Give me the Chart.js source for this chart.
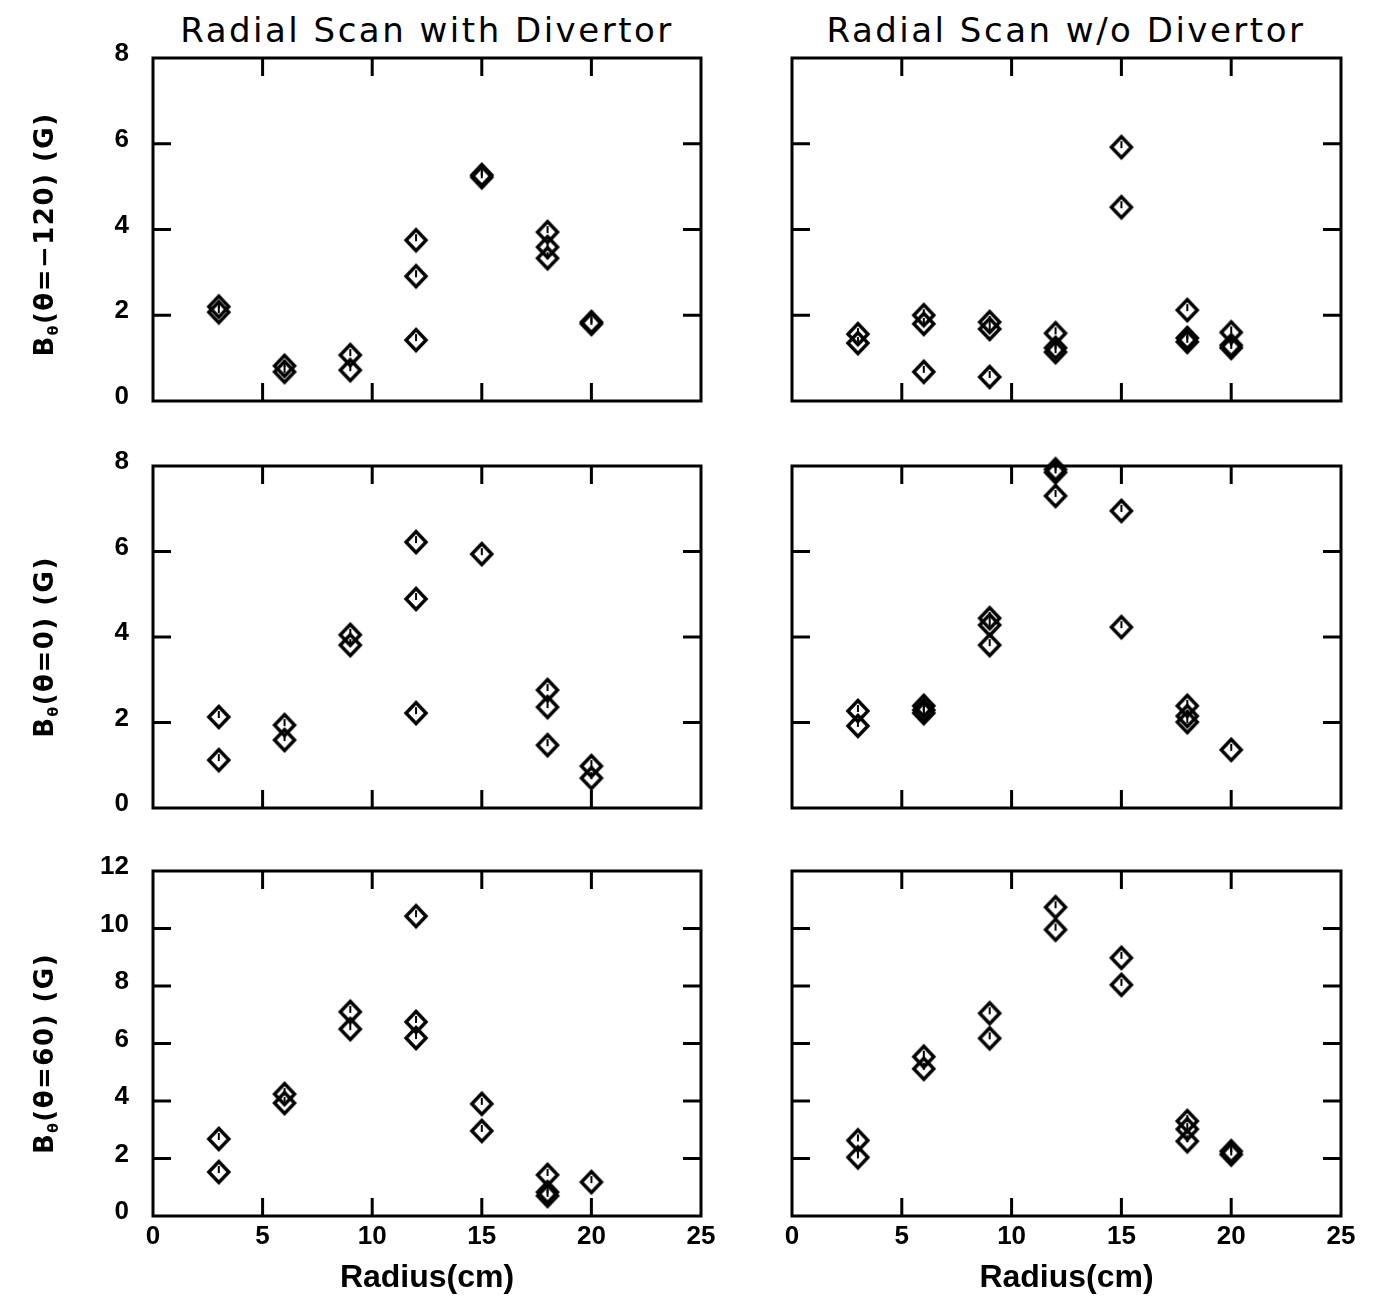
<!DOCTYPE html>
<html>
<head>
<meta charset="utf-8">
<script src="https://cdn.jsdelivr.net/npm/chart.js@4.4.1/dist/chart.umd.min.js"></script>
<style>
  body { margin: 0; background: #fff; width: 1377px; height: 1301px; position: relative; overflow: hidden; }
  canvas { position: absolute; }
  .titolo { position: absolute; top: 10px; width: 640px; text-align: center; font: 34px 'DejaVu Sans'; letter-spacing: 2.5px; color: #000; }
</style>
</head>
<body>
<div class="titolo" style="left:107px">Radial Scan with Divertor</div>
<div class="titolo" style="left:746px">Radial Scan w/o Divertor</div>

<canvas id="c1" width="720" height="430" style="left:0;top:0"></canvas>
<canvas id="c2" width="657" height="430" style="left:720px;top:0"></canvas>
<canvas id="c3" width="720" height="410" style="left:0;top:430px"></canvas>
<canvas id="c4" width="657" height="410" style="left:720px;top:430px"></canvas>
<canvas id="c5" width="720" height="461" style="left:0;top:840px"></canvas>
<canvas id="c6" width="657" height="461" style="left:720px;top:840px"></canvas>

<script>
// Dati: raggio (cm) e B_theta (G)

// theta = -120, con divertore
const xMeno120Con = [3, 3, 6, 6, 9, 9, 12, 12, 12, 15, 15, 18, 18, 18, 20, 20];
const yMeno120Con = [2.2, 2.07, 0.82, 0.68, 1.07, 0.72, 3.75, 2.91, 1.42, 5.27, 5.22, 3.94, 3.59, 3.33, 1.84, 1.8];

// theta = -120, senza divertore
const xMeno120Senza = [3, 3, 6, 6, 6, 9, 9, 9, 12, 12, 12, 15, 15, 18, 18, 18, 20, 20, 20];
const yMeno120Senza = [1.56, 1.35, 2.0, 1.8, 0.68, 1.84, 1.68, 0.56, 1.58, 1.24, 1.14, 5.92, 4.52, 2.12, 1.47, 1.38, 1.6, 1.3, 1.24];

// theta = 0, con divertore
const xZeroCon = [3, 3, 6, 6, 9, 9, 12, 12, 12, 15, 18, 18, 18, 20, 20];
const yZeroCon = [2.13, 1.12, 1.94, 1.59, 4.05, 3.81, 6.22, 4.89, 2.22, 5.94, 2.76, 2.36, 1.47, 0.98, 0.7];

// theta = 0, senza divertore
const xZeroSenza = [3, 3, 6, 6, 6, 9, 9, 9, 12, 12, 12, 15, 15, 18, 18, 18, 20];
const yZeroSenza = [2.27, 1.92, 2.39, 2.29, 2.22, 4.44, 4.28, 3.81, 7.92, 7.85, 7.3, 6.95, 4.23, 2.39, 2.15, 2.01, 1.36];

// theta = 60, con divertore
const x60Con = [3, 3, 6, 6, 9, 9, 12, 12, 12, 15, 15, 18, 18, 18, 20];
const y60Con = [2.68, 1.53, 4.24, 3.93, 7.1, 6.5, 10.43, 6.75, 6.19, 3.9, 2.96, 1.43, 0.83, 0.7, 1.18];

// theta = 60, senza divertore
const x60Senza = [3, 3, 6, 6, 9, 9, 12, 12, 15, 15, 18, 18, 18, 20, 20];
const y60Senza = [2.63, 2.04, 5.54, 5.12, 7.05, 6.18, 10.74, 9.96, 8.98, 8.04, 3.3, 3.02, 2.6, 2.25, 2.14];

// Tacche degli assi
const tackeX = [5, 10, 15, 20];
const tackeY8 = [2, 4, 6];
const tackeY12 = [2, 4, 6, 8, 10];

const etichetteY = ['(\u03b8=\u2212120) (G)', '(\u03b8=0) (G)', '(\u03b8=60) (G)'];

// Marcatore a rombo con piccola tacca interna
function creaMarcatore() {
  const c = document.createElement('canvas');
  c.width = 28;
  c.height = 28;
  const g = c.getContext('2d');
  g.strokeStyle = '#000';
  g.lineWidth = 3.4;
  g.lineJoin = 'miter';
  g.beginPath();
  g.moveTo(14, 3.5);
  g.lineTo(24, 14);
  g.lineTo(14, 24.5);
  g.lineTo(4, 14);
  g.closePath();
  g.stroke();
  g.lineWidth = 2;
  g.beginPath();
  g.moveTo(14, 8);
  g.lineTo(14, 15);
  g.stroke();
  return c;
}
const marcatore = creaMarcatore();

// Cornice e tacche interne su tutti i lati
const cornice = {
  id: 'cornice',
  afterDraw(chart, args, opts) {
    const ctx = chart.ctx;
    const { left, right, top, bottom } = chart.chartArea;
    const sx = chart.scales.x;
    const sy = chart.scales.y;
    const lung = 18;
    ctx.save();
    ctx.strokeStyle = '#000';
    ctx.lineWidth = 3;
    ctx.strokeRect(left, top, right - left, bottom - top);
    ctx.beginPath();
    tackeX.forEach(v => {
      const px = sx.getPixelForValue(v);
      ctx.moveTo(px, bottom);
      ctx.lineTo(px, bottom - lung);
      ctx.moveTo(px, top);
      ctx.lineTo(px, top + lung);
    });
    opts.tackeY.forEach(v => {
      const py = sy.getPixelForValue(v);
      ctx.moveTo(left, py);
      ctx.lineTo(left + lung, py);
      ctx.moveTo(right, py);
      ctx.lineTo(right - lung, py);
    });
    ctx.stroke();

    // titolo asse y con pedice theta
    if (opts.etichetta) {
      const cy = (top + bottom) / 2 + opts.spostaY;
      ctx.translate(46, cy);
      ctx.rotate(-Math.PI / 2);
      ctx.fillStyle = '#000';
      ctx.textBaseline = 'middle';
      ctx.textAlign = 'left';
      ctx.letterSpacing = '1.5px';
      const fGrande = "bold 26px 'DejaVu Sans'";
      const fPiccolo = "bold 14px 'DejaVu Sans'";
      ctx.font = fGrande;
      const wB = ctx.measureText('B').width;
      const wResto = ctx.measureText(opts.etichetta).width;
      ctx.font = fPiccolo;
      const wSub = ctx.measureText('\u03b8').width;
      const x0 = -(wB + wSub + wResto) / 2;
      ctx.font = fGrande;
      ctx.fillText('B', x0, 0);
      ctx.font = fPiccolo;
      ctx.fillText('\u03b8', x0 + wB, 8);
      ctx.font = fGrande;
      ctx.fillText(opts.etichetta, x0 + wB + wSub, 0);
    }
    ctx.restore();
  }
};

const fontTacche = { family: 'Liberation Sans', size: 26, weight: 'bold' };

function creaGrafico(id, xs, ys, cfg) {
  const punti = xs.map((x, i) => ({ x: x, y: ys[i] }));
  new Chart(document.getElementById(id), {
    type: 'scatter',
    data: {
      datasets: [{
        data: punti,
        pointStyle: marcatore,
        pointRadius: 10,
        clip: false
      }]
    },
    options: {
      responsive: false,
      animation: false,
      layout: { padding: { top: cfg.padTop, right: cfg.padRight, left: 0, bottom: 0 } },
      plugins: {
        legend: { display: false },
        tooltip: { enabled: false },
        cornice: { tackeY: cfg.tackeY, etichetta: cfg.etichetta, spostaY: cfg.spostaY || 0 }
      },
      scales: {
        x: {
          type: 'linear',
          min: 0,
          max: 25,
          grid: { display: false, drawTicks: false },
          border: { display: false },
          ticks: { display: cfg.mostraX, stepSize: 5, font: fontTacche, color: '#000', padding: 5, maxRotation: 0 },
          title: {
            display: cfg.mostraX,
            text: 'Radius(cm)',
            color: '#000',
            font: { family: 'Liberation Sans', size: 32, weight: 'bold' },
            padding: { top: 0, bottom: 4 }
          },
          afterFit: s => {
            s.height = cfg.altezzaX;
            s.paddingLeft = 0;
            s.paddingRight = 0;
          }
        },
        y: {
          min: 0,
          max: cfg.maxY,
          grid: { display: false, drawTicks: false },
          border: { display: false },
          ticks: { display: cfg.mostraY, stepSize: 2, font: fontTacche, color: '#000', padding: 24, labelOffset: -4 },
          afterFit: s => {
            s.width = cfg.larghezzaY;
            s.paddingTop = 0;
            s.paddingBottom = 0;
          }
        }
      }
    },
    plugins: [cornice]
  });
}

creaGrafico('c1', xMeno120Con, yMeno120Con,
  { padTop: 58, padRight: 19, altezzaX: 29, larghezzaY: 153, maxY: 8, tackeY: tackeY8, mostraX: false, mostraY: true, etichetta: etichetteY[0], spostaY: 5 });
creaGrafico('c2', xMeno120Senza, yMeno120Senza,
  { padTop: 58, padRight: 36, altezzaX: 29, larghezzaY: 72, maxY: 8, tackeY: tackeY8, mostraX: false, mostraY: false, etichetta: null });
creaGrafico('c3', xZeroCon, yZeroCon,
  { padTop: 36, padRight: 19, altezzaX: 32, larghezzaY: 153, maxY: 8, tackeY: tackeY8, mostraX: false, mostraY: true, etichetta: etichetteY[1], spostaY: 10 });
creaGrafico('c4', xZeroSenza, yZeroSenza,
  { padTop: 36, padRight: 36, altezzaX: 32, larghezzaY: 72, maxY: 8, tackeY: tackeY8, mostraX: false, mostraY: false, etichetta: null });
creaGrafico('c5', x60Con, y60Con,
  { padTop: 31, padRight: 19, altezzaX: 85, larghezzaY: 153, maxY: 12, tackeY: tackeY12, mostraX: true, mostraY: true, etichetta: etichetteY[2], spostaY: 10 });
creaGrafico('c6', x60Senza, y60Senza,
  { padTop: 31, padRight: 36, altezzaX: 85, larghezzaY: 72, maxY: 12, tackeY: tackeY12, mostraX: true, mostraY: false, etichetta: null });
</script>
</body>
</html>
